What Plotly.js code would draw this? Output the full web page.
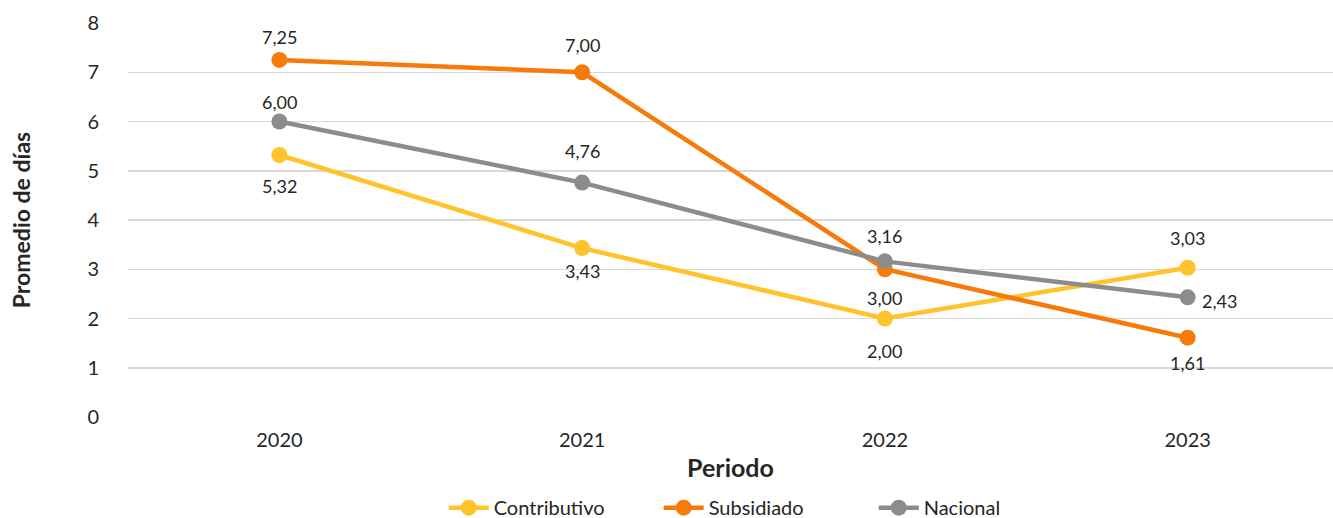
<!DOCTYPE html>
<html>
<head>
<meta charset="utf-8">
<script src="https://cdn.plot.ly/plotly-3.0.1.min.js"></script>
<style>html,body{margin:0;padding:0;background:#fff;}#chart{width:1333px;height:518px;}</style>
</head>
<body>
<div id="chart"></div>
<script>
const periods = ["2020", "2021", "2022", "2023"];
const contributivo = [5.32, 3.43, 2.00, 3.03];
const subsidiado = [7.25, 7.00, 3.00, 1.61];
const nacional = [6.00, 4.76, 3.16, 2.43];
const yTicks = [0, 1, 2, 3, 4, 5, 6, 7, 8];

// label placement (pixel shifts relative to each point): [xshift, yshift]
const contributivoLabelShift = [[0, -31], [0, -23], [0, -32], [0, 30]];
const subsidiadoLabelShift = [[0, 23], [0, 27], [0, -29], [0, -25]];
const nacionalLabelShift = [[0, 20], [0, 32], [0, 25], [32, -4]];

const fmt = v => v.toFixed(2).replace('.', ',');
const FONT = 'Lato, "Open Sans", sans-serif';

function series(name, ys, color) {
  return {
    type: 'scatter', mode: 'lines+markers', name: name,
    x: periods, y: ys,
    line: {color: color, width: 4.5},
    marker: {color: color, size: 16},
    cliponaxis: false
  };
}

// category axis: annotations are placed by category index
function labels(ys, shifts) {
  return ys.map((v, i) => ({
    x: i, y: v, xref: 'x', yref: 'y', text: fmt(v), showarrow: false,
    xshift: shifts[i][0], yshift: shifts[i][1],
    font: {family: FONT, size: 18, color: '#262626'}
  }));
}

const data = [
  series('Contributivo', contributivo, '#FFC32B'),
  series('Subsidiado', subsidiado, '#F77B0B'),
  series('Nacional', nacional, '#8C8C8C')
];

const annotations = [].concat(
  labels(contributivo, contributivoLabelShift),
  labels(subsidiado, subsidiadoLabelShift),
  labels(nacional, nacionalLabelShift)
);

const layout = {
  width: 1333, height: 518,
  margin: {l: 128, r: 0, t: 23, b: 101, autoexpand: false},
  paper_bgcolor: '#ffffff', plot_bgcolor: '#ffffff',
  font: {family: FONT, size: 18, color: '#262626'},
  showlegend: true,
  annotations: annotations,
  legend: {orientation: 'h', xref: 'paper', x: 0.262, xanchor: 'left',
           yref: 'container', y: 0.02, yanchor: 'middle', entrywidth: 160,
           font: {family: FONT, size: 20, color: '#262626'}, itemwidth: 40, traceorder: 'normal'},
  xaxis: {
    type: 'category', range: [-0.5, 3.48], showgrid: false, zeroline: false, showline: false,
    automargin: false, ticklabelstandoff: 9,
    ticks: '', tickfont: {family: FONT, size: 20, color: '#262626'},
    title: {text: '<b>Periodo</b>', font: {family: FONT, size: 25, color: '#262626'}, standoff: 9}
  },
  yaxis: {
    range: [0, 8], tickvals: yTicks, ticktext: yTicks.map(String), automargin: false,
    showgrid: true, gridcolor: '#D9D9D9', gridwidth: 1.5, zeroline: false, showline: false,
    ticks: '', ticklabelstandoff: 28, tickfont: {family: FONT, size: 20, color: '#262626'},
    title: {text: '<b>Promedio de días</b>', font: {family: FONT, size: 23, color: '#262626'}, standoff: 50}
  }
};

Plotly.newPlot('chart', data, layout, {displayModeBar: false, staticPlot: true});
</script>
</body>
</html>
